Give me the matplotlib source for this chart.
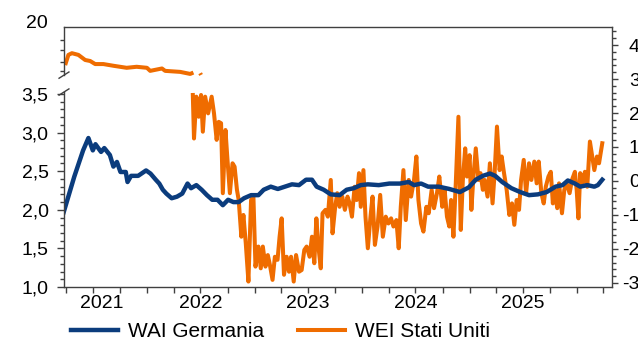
import matplotlib.pyplot as plt
import matplotlib.dates as mdates
from matplotlib.ticker import MultipleLocator, NullFormatter
import numpy as np
import pandas as pd

plt.rcParams['font.family'] = ['Liberation Sans', 'DejaVu Sans']

# WAI Germania (scala sinistra)
wai_dates = ["2021-03-23", "2021-04-28", "2021-05-28", "2021-06-15", "2021-06-30", "2021-07-09",
             "2021-07-28", "2021-08-08", "2021-08-27", "2021-09-08", "2021-09-20", "2021-10-02",
             "2021-10-20", "2021-10-26", "2021-11-07", "2021-12-01", "2021-12-28",
             "2022-01-12", "2022-01-30", "2022-02-11", "2022-02-23", "2022-03-07", "2022-03-25",
             "2022-04-12", "2022-04-30", "2022-05-18", "2022-05-30", "2022-06-17", "2022-07-05",
             "2022-07-23", "2022-08-10", "2022-08-28", "2022-09-15", "2022-10-03", "2022-10-21",
             "2022-11-08", "2022-11-26", "2022-12-20",
             "2023-01-14", "2023-02-01", "2023-02-25", "2023-03-21", "2023-04-14", "2023-05-08",
             "2023-06-01", "2023-06-25", "2023-07-15", "2023-07-31", "2023-08-24", "2023-09-17",
             "2023-10-17", "2023-11-10", "2023-12-04", "2023-12-28",
             "2024-01-21", "2024-02-27", "2024-04-03", "2024-05-09", "2024-06-08", "2024-06-26",
             "2024-07-20", "2024-08-13", "2024-09-18", "2024-10-24", "2024-11-29", "2024-12-29",
             "2025-01-22", "2025-02-15", "2025-03-11", "2025-03-29", "2025-04-22", "2025-05-23",
             "2025-06-22", "2025-07-22", "2025-08-21", "2025-09-20", "2025-10-20", "2025-11-13",
             "2025-12-01", "2025-12-25",
             "2026-01-12", "2026-02-05", "2026-03-01", "2026-03-13", "2026-03-28"]
wai = [1.97, 2.43, 2.77, 2.93, 2.77, 2.85, 2.75, 2.80, 2.71, 2.56, 2.62, 2.49, 2.49, 2.36, 2.44, 2.44, 2.51,
       2.47, 2.39, 2.34, 2.26, 2.21, 2.15, 2.17, 2.21, 2.34, 2.28, 2.32, 2.26, 2.19, 2.13, 2.13, 2.06,
       2.13, 2.10, 2.10, 2.15, 2.19,
       2.19, 2.26, 2.30, 2.27, 2.30, 2.33, 2.32, 2.39, 2.39, 2.30, 2.26, 2.20, 2.19, 2.26, 2.28, 2.32,
       2.33, 2.32, 2.34, 2.34, 2.36, 2.32, 2.34, 2.30, 2.30, 2.27, 2.23, 2.29,
       2.39, 2.44, 2.47, 2.44, 2.36, 2.28, 2.23, 2.19, 2.20, 2.23, 2.30, 2.32, 2.38, 2.34,
       2.30, 2.32, 2.30, 2.32, 2.39]

# WEI Stati Uniti, tratto sopra l'interruzione dell'asse
wei_top_dates = ["2021-03-28", "2021-04-08", "2021-04-20", "2021-05-12", "2021-06-04", "2021-06-21",
                 "2021-07-08", "2021-08-05", "2021-09-08", "2021-10-23", "2021-11-26", "2021-12-31",
                 "2022-01-11", "2022-02-20", "2022-03-03", "2022-04-23", "2022-05-27", "2022-06-07",
                 "2022-06-20", "2022-06-30", "2022-07-03"]
wei_top = [3.41, 3.71, 3.76, 3.71, 3.56, 3.53, 3.44, 3.44, 3.39, 3.33, 3.36, 3.33,
           3.24, 3.31, 3.24, 3.21, 3.15, 3.19, np.nan, 3.17, 3.12]

# WEI Stati Uniti (scala destra)
wei_dates = ["2022-06-05", "2022-06-09", "2022-06-17", "2022-06-25", "2022-07-03", "2022-07-09",
             "2022-07-17", "2022-07-27", "2022-08-08", "2022-08-16", "2022-08-25", "2022-09-01",
             "2022-09-09", "2022-09-15", "2022-09-24", "2022-09-30", "2022-10-09", "2022-10-18",
             "2022-10-25", "2022-11-02", "2022-11-08", "2022-11-17", "2022-11-24", "2022-12-02",
             "2022-12-11", "2022-12-20", "2022-12-28",
             "2023-01-04", "2023-01-14", "2023-01-22", "2023-01-29", "2023-02-07", "2023-02-15",
             "2023-02-22", "2023-03-03", "2023-03-11", "2023-03-20", "2023-03-27", "2023-04-03",
             "2023-04-11", "2023-04-20", "2023-04-28", "2023-05-05", "2023-05-14", "2023-05-22",
             "2023-06-01", "2023-06-10", "2023-06-19", "2023-06-27", "2023-07-07", "2023-07-15",
             "2023-07-23", "2023-07-30", "2023-08-06", "2023-08-14", "2023-08-20", "2023-08-30",
             "2023-09-07", "2023-09-17", "2023-09-23", "2023-10-02", "2023-10-09", "2023-10-17",
             "2023-10-26", "2023-11-04", "2023-11-13", "2023-11-20", "2023-11-28", "2023-12-07",
             "2023-12-14", "2023-12-22", "2023-12-28",
             "2024-01-06", "2024-01-13", "2024-01-21", "2024-01-30", "2024-02-06", "2024-02-14",
             "2024-02-23", "2024-03-03", "2024-03-12", "2024-03-22", "2024-03-31", "2024-04-09",
             "2024-04-17", "2024-04-27", "2024-05-05", "2024-05-12", "2024-05-21", "2024-05-29",
             "2024-06-08", "2024-06-16", "2024-06-26", "2024-07-04", "2024-07-11", "2024-07-20",
             "2024-07-28", "2024-08-07", "2024-08-15", "2024-08-25", "2024-09-02", "2024-09-12",
             "2024-09-20", "2024-09-30", "2024-10-08", "2024-10-16", "2024-10-24", "2024-10-30",
             "2024-11-07", "2024-11-15", "2024-11-24", "2024-12-02", "2024-12-09", "2024-12-17",
             "2024-12-23",
             "2025-01-01", "2025-01-07", "2025-01-14", "2025-01-22", "2025-01-31", "2025-02-07",
             "2025-02-15", "2025-02-21", "2025-03-03", "2025-03-11", "2025-03-20", "2025-03-27",
             "2025-04-04", "2025-04-13", "2025-04-20", "2025-04-28", "2025-05-07", "2025-05-16",
             "2025-05-25", "2025-06-02", "2025-06-10", "2025-06-18", "2025-06-25", "2025-07-04",
             "2025-07-12", "2025-07-22", "2025-07-30", "2025-08-09", "2025-08-17", "2025-08-24",
             "2025-09-02", "2025-09-10", "2025-09-17", "2025-09-26", "2025-10-04", "2025-10-11",
             "2025-10-17", "2025-10-26", "2025-11-01", "2025-11-11", "2025-11-19", "2025-11-27",
             "2025-12-07", "2025-12-15", "2025-12-25", "2025-12-31",
             "2026-01-06", "2026-01-12", "2026-01-20", "2026-01-28", "2026-02-05", "2026-02-14",
             "2026-02-21", "2026-03-01", "2026-03-10", "2026-03-17", "2026-03-28"]
wei = [2.53, 1.25, 2.48, 1.89, 2.53, 1.45, 2.48, 1.99, 2.48, 1.99, 1.21, 1.74,
       1.70, -0.36, 1.50, 0.72, -0.36, 0.52, 0.42, -0.26, -0.56, -1.64, -1.00, -1.83,
       -2.96, -0.56, -0.46,
       -2.52, -1.93, -2.57, -1.93, -2.52, -2.18, -2.47, -2.91, -2.23, -2.32, -1.64, -1.10,
       -2.76, -2.23, -2.67, -2.23, -2.96, -2.18, -2.67, -2.62, -2.03, -1.93, -2.23, -1.64,
       -2.42, -1.10, -1.93, -2.57, -0.95, -0.85, -1.05, 0.03, -1.54, -0.76, -0.36, -0.76,
       -0.46, -0.85, -0.46, -0.66, -1.05, -0.17, -0.56, 0.23, -0.76,
       0.32, -1.05, -1.98, -1.05, -0.46, -1.88, -1.34, -0.41, -1.64, -1.05, -1.25, -1.10,
       -1.34, -1.15, -1.98, -0.76, 0.32, -1.15, 0.03, -0.46, 0.03, 0.72, -0.56, -1.25,
       -1.49, -0.76, -0.95, -0.26, -0.80, -0.36, 0.13, -0.76, -0.26, -1.05, -1.34, -0.56,
       -1.64, -0.07, 1.89, -1.44, 0.03, 0.96, 0.13,
       0.76, -0.85, 0.13, 0.96, 0.03, 0.23, -0.26, 0.03, -0.46, 0.52, -0.66, 0.23,
       1.60, 0.32, 0.72, 0.23, -0.26, -1.00, -0.66, -1.29, -0.56, -0.85, 0.03, 0.62,
       -0.36, 0.52, 0.03, 0.57, -0.07, 0.57, -0.36, -0.66, -0.17, 0.13, 0.27, -0.66,
       -0.26, -0.80, -0.07, -0.95, -0.26, -0.07, -0.36, 0.03, 0.27, -0.26,
       -1.10, 0.23, -0.07, 0.27, -0.17, 1.16, 0.76, 0.32, 0.72, 0.52, 1.11]

year_labels = ["2021", "2022", "2023", "2024", "2025"]
year_label_dates = ["2021-08-01", "2022-07-02", "2023-07-02", "2024-07-02", "2025-07-02"]
left_ticks = [1.0, 1.5, 2.0, 2.5, 3.0, 3.5]
right_ticks = [-3, -2, -1, 0, 1, 2, 3, 4]

blue = '#0b3c7d'
orange = '#ef6c00'
grey = '#404040'

fig = plt.figure(figsize=(6.38, 3.46), dpi=100)
ax = fig.add_axes([0.1003, 0.1705, 0.8589, 0.7514])
ax2 = ax.twinx()
ax.set_zorder(ax2.get_zorder() + 1)
ax.patch.set_visible(False)

ax2.plot(pd.to_datetime(wei_top_dates), wei_top, color=orange, lw=2.9, solid_capstyle='butt')
l2, = ax2.plot(pd.to_datetime(wei_dates), wei, color=orange, lw=2.9, label='WEI Stati Uniti')
l1, = ax.plot(pd.to_datetime(wai_dates), wai, color=blue, lw=3.2, label='WAI Germania')

ax.set_xlim(pd.Timestamp('2021-03-24'), pd.Timestamp('2026-04-30'))
ax.set_ylim(1.0, 4.368)
ax2.set_ylim(-3.12, 4.53)

# asse sinistro spezzato
for a in (ax, ax2):
    for s in a.spines.values():
        s.set_color(grey)
        s.set_linewidth(1.0)
ax.spines['left'].set_visible(False)
ax.spines['right'].set_visible(False)
ax2.spines['left'].set_visible(False)
ax2.spines['top'].set_visible(False)
ax2.spines['bottom'].set_visible(False)
ax.plot([0, 0], [0, 0.75], transform=ax.transAxes, color=grey, lw=1.0, clip_on=False)
ax.plot([0, 0], [0.815, 1.0], transform=ax.transAxes, color=grey, lw=1.0, clip_on=False)
dx, dy = 0.009, 0.012
for yb in (0.75, 0.815):
    ax.plot([-dx, dx], [yb - dy, yb + dy], transform=ax.transAxes, color=grey, lw=1.0, clip_on=False)

ax.set_yticks(left_ticks)
ax.set_yticklabels([f"{v:.1f}".replace('.', ',') for v in left_ticks])
left_minor = list(np.arange(1.0, 3.55, 0.1)) + [3.80, 3.91, 4.07, 4.20]
ax.set_yticks(left_minor, minor=True)
ax.tick_params(axis='y', which='major', direction='out', length=5, width=1, color=grey,
               pad=6, labelsize=14)
ax.tick_params(axis='y', which='minor', direction='out', length=3, width=1, color=grey)
fig.text(48 / 638, 1 - 23 / 346, '20', ha='right', va='center', fontsize=14)

ax2.set_yticks(right_ticks)
ax2.set_yticklabels([str(v) for v in right_ticks])
ax2.yaxis.set_minor_locator(MultipleLocator(0.2))
ax2.tick_params(axis='y', which='major', direction='out', length=4, width=1, color=grey,
                pad=16, labelsize=14)
ax2.tick_params(axis='y', which='minor', direction='out', length=3, width=1, color=grey)
for t in ax2.get_yticklabels():
    t.set_horizontalalignment('right')

ax.xaxis.set_major_locator(mdates.MonthLocator(bymonth=[1, 4, 7, 10]))
ax.xaxis.set_major_formatter(NullFormatter())
ax.set_xticks(pd.to_datetime(year_label_dates), minor=True)
ax.set_xticklabels(year_labels, minor=True)
ax.tick_params(axis='x', which='major', direction='out', length=4, width=1, color=grey)
ax.tick_params(axis='x', which='minor', length=0, pad=6, labelsize=14)

fig.legend(handles=[l1, l2], loc='center', bbox_to_anchor=(0.44, 0.042), ncol=2,
           frameon=False, fontsize=15, handlelength=2.26, handletextpad=0.48,
           columnspacing=1.6)

fig.savefig('out.png', dpi=100)
